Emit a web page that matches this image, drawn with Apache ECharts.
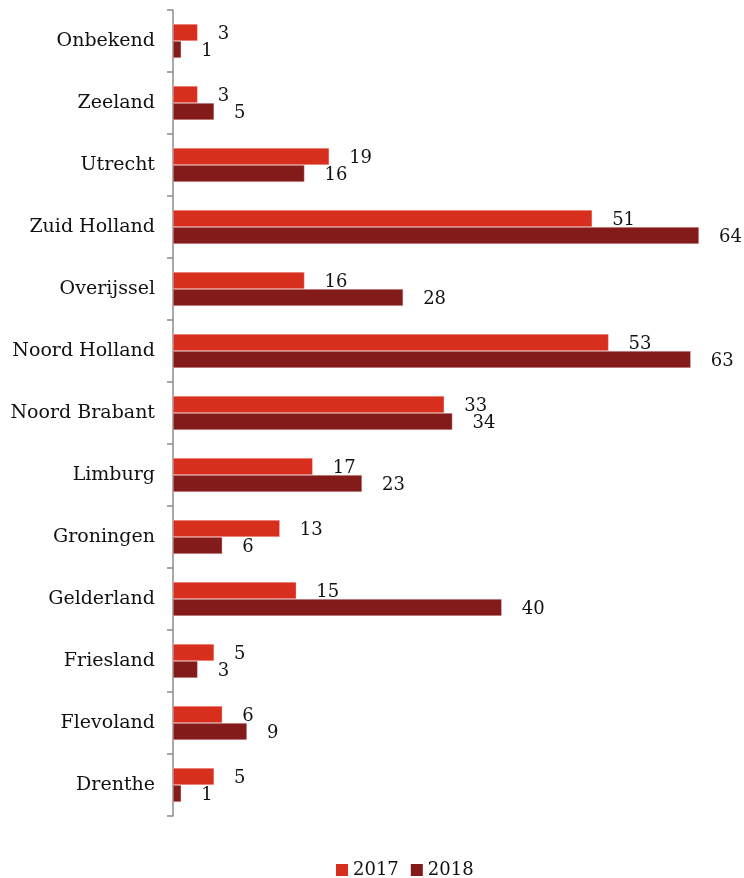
<!DOCTYPE html>
<html>
<head>
<meta charset="utf-8">
<script src="https://cdn.jsdelivr.net/npm/echarts@6/dist/echarts.min.js"></script>
<style>
  html, body { margin: 0; padding: 0; background: #fff; }
  #chart { width: 744px; height: 878px; }
</style>
</head>
<body>
<div id="chart"></div>
<script>
// Provinces, listed bottom to top along the category axis
const provinces = ['Drenthe', 'Flevoland', 'Friesland', 'Gelderland', 'Groningen', 'Limburg',
  'Noord Brabant', 'Noord Holland', 'Overijssel', 'Zuid Holland', 'Utrecht', 'Zeeland', 'Onbekend'];
const values2017 = [5, 6, 5, 15, 13, 17, 33, 53, 16, 51, 19, 3, 3];
const values2018 = [1, 9, 3, 40, 6, 23, 34, 63, 28, 64, 16, 5, 1];
const seriesNames = ['2017', '2018'];

const serif = 'DejaVu Serif';
const labelStyle = {
  show: true,
  position: 'right',
  distance: 20,
  offset: [0, 2],
  color: '#111',
  fontFamily: serif,
  fontSize: 18
};

const chart = echarts.init(document.getElementById('chart'));
chart.setOption({
  animation: false,
  grid: { left: 173, right: 45, top: 10, bottom: 62 },
  legend: {
    data: seriesNames,
    left: 331,
    top: 856,
    itemWidth: 12,
    itemHeight: 12,
    itemGap: 12,
    icon: 'rect',
    itemStyle: { borderWidth: 0 },
    textStyle: { fontFamily: serif, fontSize: 18, color: '#111' }
  },
  xAxis: {
    type: 'value',
    min: 0,
    max: 64,
    show: false
  },
  yAxis: {
    type: 'category',
    data: provinces,
    axisLine: { lineStyle: { color: '#8c8c8c', width: 1.5 } },
    axisTick: { show: true, length: 6, alignWithLabel: false, lineStyle: { color: '#8c8c8c', width: 1.5 } },
    axisLabel: { fontFamily: serif, fontSize: 19, color: '#111', margin: 18 }
  },
  series: [
    {
      name: seriesNames[0],
      type: 'bar',
      data: values2017,
      barWidth: 17,
      barGap: '0%',
      itemStyle: { color: '#d82e1e', borderColor: 'rgba(255,225,225,0.7)', borderWidth: 0.5 },
      label: labelStyle
    },
    {
      name: seriesNames[1],
      type: 'bar',
      data: values2018,
      barWidth: 17,
      barGap: '0%',
      itemStyle: { color: '#841b1b', borderColor: 'rgba(255,225,225,0.7)', borderWidth: 0.5 },
      label: labelStyle
    }
  ]
});
</script>
</body>
</html>
